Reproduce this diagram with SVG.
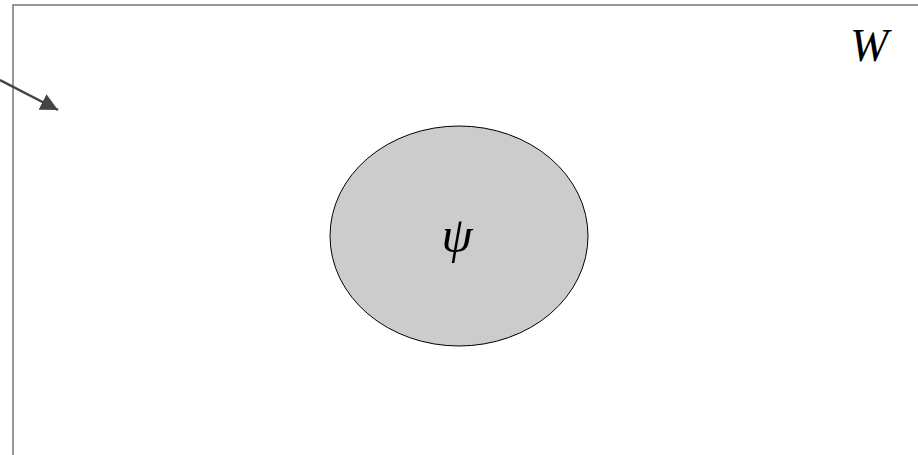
<svg xmlns="http://www.w3.org/2000/svg" width="918" height="455" viewBox="0 0 918 455">
<style>
.lbl{font-family:"Liberation Serif","DejaVu Serif",serif;font-style:italic;fill:#000}
</style>
<defs>
<marker id="ah" viewBox="0 0 10 10" refX="10" refY="5" markerWidth="7" markerHeight="7" markerUnits="strokeWidth" orient="auto">
<path d="M0,0 L10,5 L0,10 z" fill="#444"/>
</marker>
</defs>
<rect width="918" height="455" fill="#fff"/>
<g id="world">
<rect x="13" y="5" width="1000" height="500" fill="none" stroke="#777" stroke-width="1.5"/>
<text class="lbl" x="850" y="61" font-size="46">W</text>
</g>
<g id="psi">
<ellipse cx="459" cy="236" rx="129" ry="110" fill="#cccccc" stroke="#000" stroke-width="1"/>
<text class="lbl" x="457" y="252" font-size="50" text-anchor="middle">ψ</text>
</g>
<g id="connectors">
<line x1="0" y1="80" x2="58" y2="110" stroke="#444" stroke-width="2.5" marker-end="url(#ah)"/>
</g>
</svg>
